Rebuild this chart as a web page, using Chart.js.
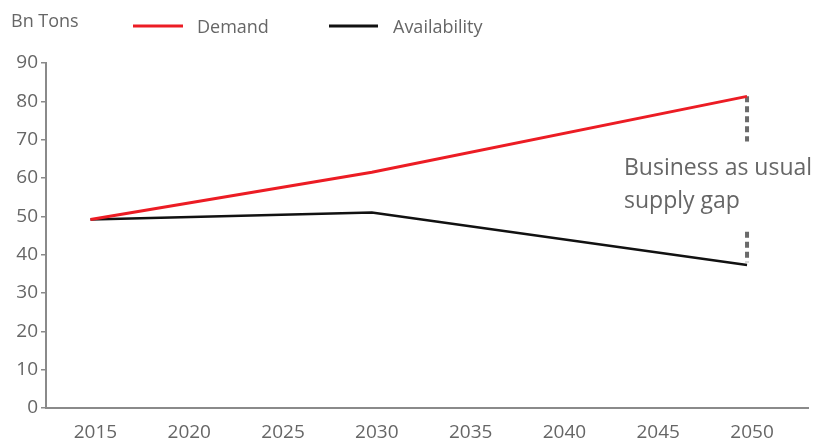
<!DOCTYPE html>
<html>
<head>
<meta charset="utf-8">
<script src="https://cdn.jsdelivr.net/npm/chart.js@4"></script>
<style>
  html, body { margin: 0; padding: 0; background: #fff; }
  #wrap { width: 817px; height: 439px; position: relative; }
</style>
</head>
<body>
<div id="wrap"><canvas id="gapChart"></canvas></div>
<script>
// Data
const years = [2015, 2030, 2050];
const demand = [49.2, 61.5, 81.3];
const availability = [49.2, 51.0, 37.3];
const gapTop = [81.3, 69.5];      // dotted marker under demand end
const gapBottom = [46.0, 38.0];   // dotted marker above availability end
const gapYear = 2050;
const xTicks = [2015, 2020, 2025, 2030, 2035, 2040, 2045, 2050];
const unitLabel = 'Bn Tons';
const noteLines = ['Business as usual', 'supply gap'];

const FONT = '"Open Sans", "DejaVu Sans", sans-serif';
const GREY = '#666';

function pts(xs, ys){ return xs.map((x, i) => ({ x, y: ys[i] })); }

// legend + unit label + note, drawn on top
const decor = {
  id: 'decor',
  afterDraw(chart){
    const ctx = chart.ctx;
    ctx.save();
    ctx.fillStyle = GREY;
    ctx.textBaseline = 'alphabetic';
    ctx.font = '18px ' + FONT;
    ctx.fillText(unitLabel, 11, 27);

    ctx.lineWidth = 3;
    ctx.strokeStyle = '#ec1c24';
    ctx.beginPath(); ctx.moveTo(133, 26); ctx.lineTo(183, 26); ctx.stroke();
    ctx.fillText('Demand', 197, 33);
    ctx.strokeStyle = '#111';
    ctx.beginPath(); ctx.moveTo(329, 26); ctx.lineTo(378, 26); ctx.stroke();
    ctx.fillText('Availability', 393, 33);

    ctx.font = '23px ' + FONT;
    ctx.fillText(noteLines[0], 624, 175);
    ctx.fillText(noteLines[1], 624, 208);
    ctx.restore();
  }
};

new Chart(document.getElementById('gapChart'), {
  type: 'line',
  data: {
    datasets: [
      { label: 'Demand', data: pts(years, demand), borderColor: '#ec1c24', borderWidth: 3, pointRadius: 0, tension: 0 },
      { label: 'Availability', data: pts(years, availability), borderColor: '#111', borderWidth: 2.5, pointRadius: 0, tension: 0 },
      { label: 'gapTop', data: gapTop.map(v => ({ x: gapYear, y: v })), borderColor: '#6a6a6a', borderWidth: 4, borderDash: [6, 4], pointRadius: 0 },
      { label: 'gapBottom', data: gapBottom.map(v => ({ x: gapYear, y: v })), borderColor: '#6a6a6a', borderWidth: 4, borderDash: [6, 4], pointRadius: 0 }
    ]
  },
  options: {
    responsive: true,
    maintainAspectRatio: false,
    animation: false,
    layout: { padding: { top: 63, right: 9, left: 0, bottom: 0 } },
    plugins: { legend: { display: false }, tooltip: { enabled: false } },
    scales: {
      x: {
        type: 'linear',
        min: 2012.63,
        max: 2053.25,
        afterBuildTicks: s => { s.ticks = xTicks.map(v => ({ value: v })); },
        afterFit: s => { s.height = 31; },
        grid: { display: false },
        border: { display: true, color: '#8a8a8a', width: 2 },
        ticks: { color: GREY, font: { family: FONT, size: 19 }, padding: 5, labelOffset: 5, maxRotation: 0, callback: v => String(v) }
      },
      y: {
        min: 0,
        max: 90,
        afterFit: s => { s.width = 46; },
        grid: { drawOnChartArea: false, drawTicks: true, tickLength: 5, color: '#8a8a8a', lineWidth: 1.5 },
        border: { display: true, color: '#8a8a8a', width: 2 },
        ticks: { stepSize: 10, color: GREY, font: { family: FONT, size: 19 }, padding: 3 }
      }
    }
  },
  plugins: [decor]
});
</script>
</body>
</html>
